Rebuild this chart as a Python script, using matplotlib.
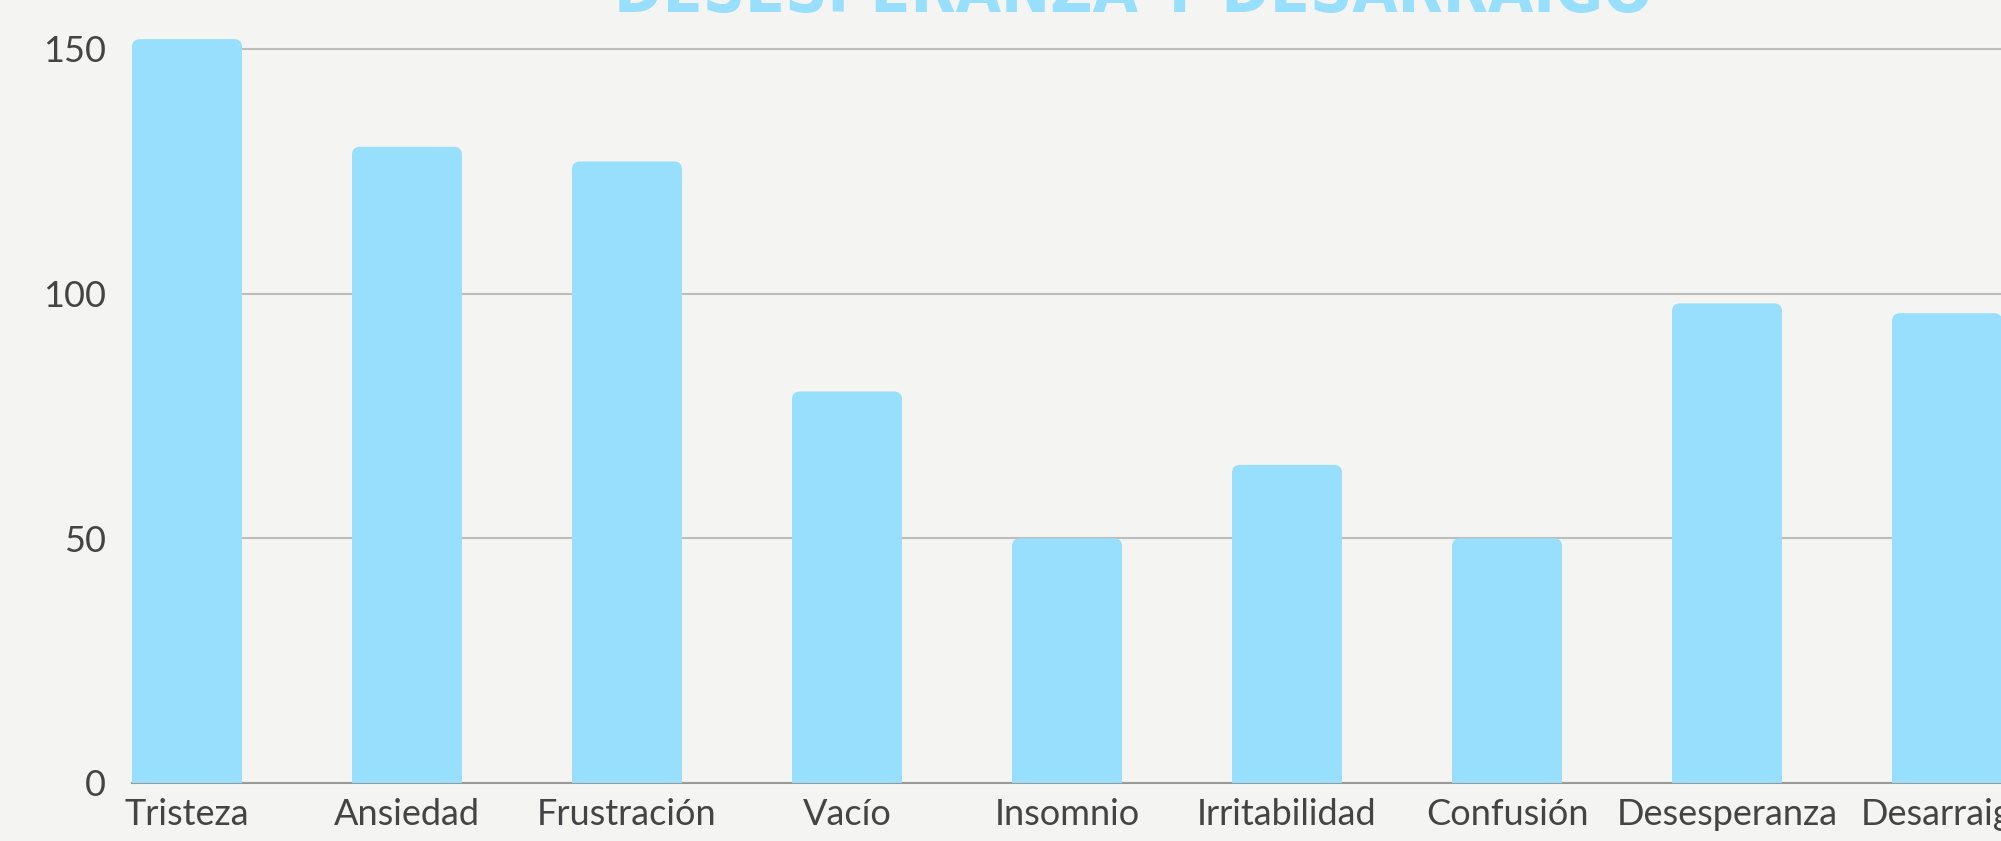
import matplotlib.pyplot as plt
from matplotlib.patches import FancyBboxPatch

# Data
categorias = ['Tristeza', 'Ansiedad', 'Frustración', 'Vacío', 'Insomnio',
              'Irritabilidad', 'Confusión', 'Desesperanza', 'Desarraigo']
valores = [152, 130, 127, 80, 50, 65, 50, 98, 96]
yticks = [0, 50, 100, 150]

azul = '#97dffd'
gris_texto = '#444444'
fondo = '#f4f4f3'

fig = plt.figure(figsize=(20.01, 8.41), dpi=100, facecolor=fondo)
ax = fig.add_axes([132 / 2001, 58 / 841, 1870 / 2001, 783 / 841])
ax.set_facecolor(fondo)

x = range(len(categorias))
barras = ax.bar(x, valores, width=0.5, color=azul, zorder=3)

# Axis limits, ticks and grid
ax.set_xlim(-0.25, len(categorias) - 0.75)
ax.set_ylim(0, 160)

# swap each bar for one with rounded top corners
# (approx 8 px radius; aspect = data-units ratio between y and x)
px_x = 1870 / (len(categorias) - 0.5)
px_y = 783 / 160
for b in barras:
    b.set_visible(False)
    redondo = FancyBboxPatch((b.get_x(), -5), b.get_width(), b.get_height() + 5,
                             boxstyle='round,pad=0,rounding_size=%f' % (8 / px_x),
                             mutation_aspect=px_x / px_y,
                             facecolor=azul, edgecolor='none', zorder=3)
    ax.add_patch(redondo)

ax.set_yticks(yticks)
ax.set_xticks(list(x))
ax.set_xticklabels(categorias)
ax.tick_params(axis='both', length=0, labelsize=26, labelcolor=gris_texto)
ax.tick_params(axis='y', pad=19)
ax.tick_params(axis='x', pad=11)
for lab in ax.get_xticklabels() + ax.get_yticklabels():
    lab.set_family('Lato')

ax.grid(axis='y', color='#bdbdbd', linewidth=1.5, zorder=0)
for s in ['top', 'right', 'left']:
    ax.spines[s].set_visible(False)
ax.spines['bottom'].set_color('#9a9a9a')
ax.spines['bottom'].set_linewidth(1.5)
ax.spines['bottom'].set_zorder(2)

# Title, clipped at the top of the image
fig.text(1133 / 2001, 1 - 12 / 841, 'DESESPERANZA Y DESARRAIGO',
         ha='center', va='baseline', color=azul, fontsize=47,
         fontweight='heavy', family='DejaVu Sans', fontstretch='condensed')

fig.savefig('out.png', dpi=100, facecolor=fondo)
